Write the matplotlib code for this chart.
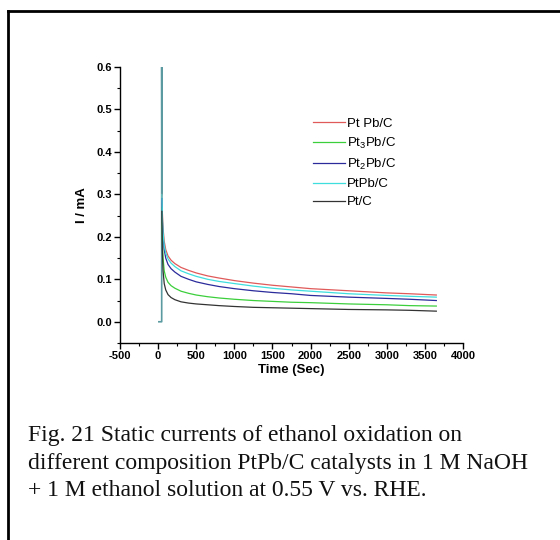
import numpy as np
import matplotlib
matplotlib.use('Agg')
import matplotlib.pyplot as plt
from matplotlib.lines import Line2D
from matplotlib.ticker import MultipleLocator

plt.rcParams['axes.unicode_minus'] = False
plt.rcParams['mathtext.fontset'] = 'custom'
plt.rcParams['mathtext.rm'] = 'Liberation Sans'
plt.rcParams['mathtext.it'] = 'Liberation Sans'

# chronoamperometry data (time in s, current in mA)
time_s = [50, 55, 65, 80, 100, 130, 170, 220, 300, 400, 500, 650, 800, 1000,
          1250, 1500, 1750, 2000, 2500, 3000, 3300, 3650]
pt_pb = [0.30, 0.26, 0.22, 0.19, 0.17, 0.155, 0.145, 0.137, 0.128, 0.121, 0.115,
         0.108, 0.103, 0.097, 0.091, 0.086, 0.082, 0.078, 0.073, 0.068, 0.066, 0.063]
pt3_pb = [0.27, 0.20, 0.15, 0.12, 0.105, 0.093, 0.085, 0.079, 0.072, 0.067, 0.063,
          0.059, 0.056, 0.053, 0.050, 0.048, 0.046, 0.045, 0.042, 0.040, 0.038, 0.037]
pt2_pb = [0.29, 0.24, 0.20, 0.17, 0.15, 0.135, 0.125, 0.117, 0.107, 0.100, 0.094,
          0.088, 0.083, 0.078, 0.073, 0.069, 0.066, 0.062, 0.058, 0.055, 0.053, 0.050]
ptpb = [0.30, 0.25, 0.21, 0.18, 0.162, 0.148, 0.138, 0.130, 0.120, 0.113, 0.107,
        0.100, 0.095, 0.090, 0.084, 0.079, 0.075, 0.072, 0.066, 0.062, 0.060, 0.058]
pt_c = [0.26, 0.17, 0.12, 0.09, 0.075, 0.064, 0.057, 0.052, 0.047, 0.044, 0.042,
        0.040, 0.038, 0.036, 0.034, 0.033, 0.032, 0.031, 0.029, 0.028, 0.027, 0.025]

# initial step before the decay
spike_t = [10, 47, 47, 50]
spike_i = [0.0, 0.0, 0.6, 0.30]

labels = ['Pt Pb/C', r'Pt$_3$Pb/C', r'Pt$_2$Pb/C', 'PtPb/C', 'Pt/C']
series = [pt_pb, pt3_pb, pt2_pb, ptpb, pt_c]
colors = ['#e05a5a', '#3ccf3c', '#2b2b9c', '#3fdede', '#333333']

fig = plt.figure(figsize=(5.6, 5.4), dpi=100)
fig.patch.set_facecolor('white')

# page frame (only left and top edges visible)
fig.add_artist(Line2D([8 / 560, 8 / 560], [0, 1 - 11 / 540], color='black', lw=2,
                      transform=fig.transFigure))
fig.add_artist(Line2D([8 / 560, 1], [1 - 11 / 540, 1 - 11 / 540], color='black', lw=2,
                      transform=fig.transFigure))

ax = fig.add_axes([120 / 560, 1 - 343 / 540, 343 / 560, 276 / 540])

ax.plot(spike_t, spike_i, color='#5a9aa0', lw=1.2)
for vals, col, lab in zip(series, colors, labels):
    ax.plot(time_s, vals, color=col, lw=0.9, label=lab)

ax.set_xlim(-500, 4000)
ax.set_ylim(-0.05, 0.6)
ax.xaxis.set_major_locator(MultipleLocator(500))
ax.xaxis.set_minor_locator(MultipleLocator(250))
ax.yaxis.set_major_locator(MultipleLocator(0.1))
ax.yaxis.set_minor_locator(MultipleLocator(0.05))
ax.set_yticks([0.0, 0.1, 0.2, 0.3, 0.4, 0.5, 0.6])

for side in ['top', 'right']:
    ax.spines[side].set_visible(False)
for side in ['left', 'bottom']:
    ax.spines[side].set_linewidth(1.0)

ax.tick_params(which='major', direction='out', length=4, width=1, labelsize=8, pad=2)
ax.tick_params(which='minor', direction='out', length=2, width=0.8)
for lbl in ax.get_xticklabels() + ax.get_yticklabels():
    lbl.set_fontweight('bold')
    lbl.set_family('Liberation Sans')

ax.set_xlabel('Time (Sec)', fontsize=9.5, fontweight='bold', family='Liberation Sans', labelpad=2)
ax.set_ylabel('I / mA', fontsize=9.5, fontweight='bold', family='Liberation Sans', labelpad=6)

ax.legend(loc='upper left', bbox_to_anchor=(0.542, 0.84), frameon=False,
          prop={'family': 'Liberation Sans', 'size': 9.5},
          handlelength=2.5, handletextpad=0.1, labelspacing=0.45, borderpad=0)

caption = ['Fig. 21 Static currents of ethanol oxidation on',
           'different composition PtPb/C catalysts in 1 M NaOH',
           '+ 1 M ethanol solution at 0.55 V vs. RHE.']
for k, line in enumerate(caption):
    fig.text(28 / 560, 1 - (436 + 27.5 * k) / 540, line, family='Liberation Serif',
             fontsize=17, va='center', ha='left', color='#111111')

fig.savefig('out.png', dpi=100)
